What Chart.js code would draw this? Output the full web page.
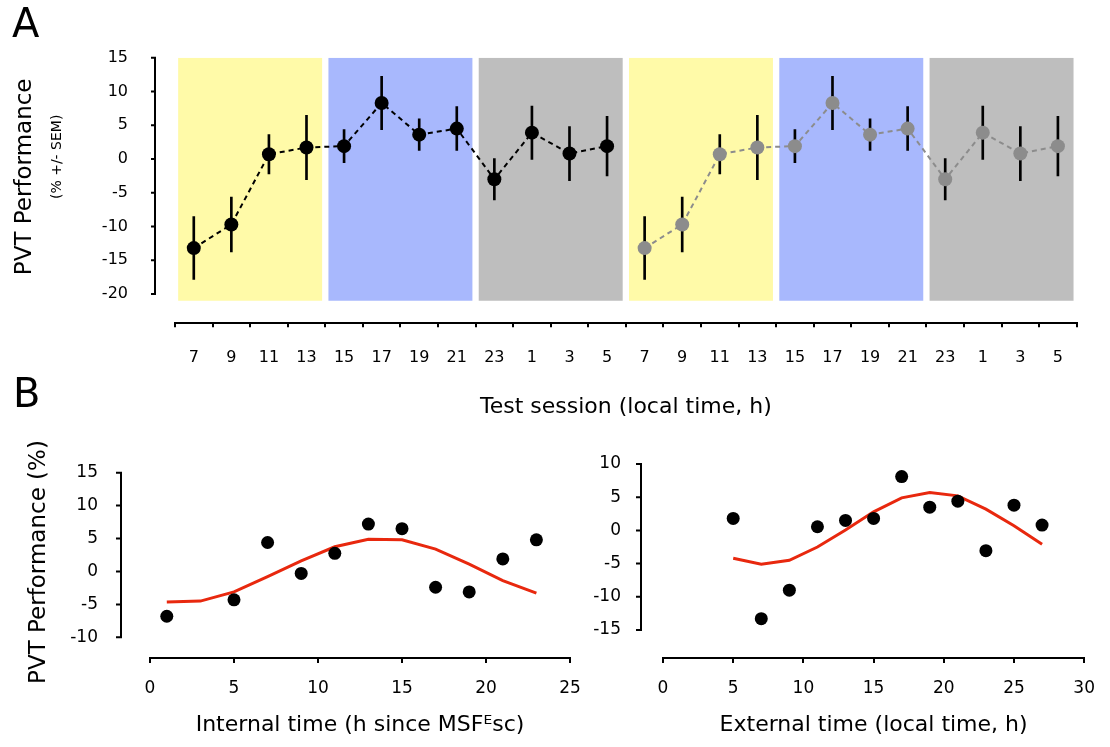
<!DOCTYPE html>
<html>
<head>
<meta charset="utf-8">
<script src="https://cdn.jsdelivr.net/npm/chart.js@4.4.0/dist/chart.umd.min.js"></script>
<style>
  body { margin: 0; background: #fff; }
  #wrap { position: relative; width: 1110px; height: 747px; overflow: hidden; }
  canvas { position: absolute; left: 0; top: 0; }
  .panel { position: absolute; font-family: "DejaVu Sans", sans-serif; font-size: 40px; line-height: 1; color: #000; }
</style>
</head>
<body>
<div id="wrap">
  <canvas id="chartA" width="1110" height="747"></canvas>
  <canvas id="chartB1" width="1110" height="747"></canvas>
  <canvas id="chartB2" width="1110" height="747"></canvas>
  <div class="panel" style="left:12px;top:3px">A</div>
  <div class="panel" style="left:13px;top:373px">B</div>
</div>
<script>
const FONT = "'DejaVu Sans', sans-serif";

/* ================= DATA ================= */

// panel A: one day of test sessions, plotted twice
const sessionHours = ["7", "9", "11", "13", "15", "17", "19", "21", "23", "1", "3", "5"];
const sessionMean = [-13.2, -9.7, 0.7, 1.7, 1.9, 8.3, 3.6, 4.5, -3.0, 3.9, 0.8, 1.9];
const sessionSem = [4.65, 4.05, 2.9, 4.75, 2.45, 3.95, 2.35, 3.25, 3.05, 3.95, 4.0, 4.4];
const blockNames = ["morning", "evening", "night", "morning 2", "evening 2", "night 2"];
const blockColors = ["#fffaa8", "#a8b8fd", "#bebebe", "#fffaa8", "#a8b8fd", "#bebebe"];

// panel B left: internal time
const internalX = [1, 5, 7, 9, 11, 13, 15, 17, 19, 21, 23];
const internalY = [-6.8, -4.3, 4.4, -0.3, 2.75, 7.2, 6.5, -2.4, -3.1, 1.9, 4.8];
const internalFitX = [1, 3, 5, 7, 9, 11, 13, 15, 17, 19, 21, 23];
const internalFitY = [-4.65, -4.5, -3.1, -0.8, 1.6, 3.75, 4.9, 4.8, 3.4, 1.1, -1.4, -3.3];

// panel B right: external time
const externalX = [5, 7, 9, 11, 13, 15, 17, 19, 21, 23, 25, 27];
const externalY = [1.8, -13.3, -9.0, 0.55, 1.5, 1.8, 8.1, 3.5, 4.4, -3.05, 3.8, 0.8];
const externalFitX = [5, 7, 9, 11, 13, 15, 17, 19, 21, 23, 25, 27];
const externalFitY = [-4.2, -5.1, -4.5, -2.5, 0.05, 2.8, 4.9, 5.7, 5.2, 3.2, 0.7, -2.1];

/* ================= HELPERS ================= */

// y axis drawn a little left of the plot, like the original figure
function sideAxis(cfg) {
  return {
    id: "sideAxis",
    afterDraw(chart) {
      const { ctx, chartArea } = chart;
      const y = chart.scales.y;
      const x = chartArea.left - cfg.gap;
      const top = y.getPixelForValue(cfg.from);
      const bottom = y.getPixelForValue(cfg.to);
      ctx.save();
      ctx.strokeStyle = "#000";
      ctx.lineWidth = 2;
      ctx.beginPath();
      ctx.moveTo(x, top - 1);
      ctx.lineTo(x, bottom + 1);
      y.ticks.forEach(t => {
        const py = y.getPixelForValue(t.value);
        ctx.moveTo(x - cfg.tick, py);
        ctx.lineTo(x, py);
      });
      ctx.stroke();
      ctx.fillStyle = "#000";
      ctx.textAlign = "center";
      ctx.textBaseline = "middle";
      cfg.titles.forEach(t => {
        ctx.save();
        ctx.translate(t.x, (top + bottom) / 2 + t.dy);
        ctx.rotate(-Math.PI / 2);
        ctx.font = t.size + "px " + FONT;
        ctx.fillText(t.text, 0, 0);
        ctx.restore();
      });
      ctx.restore();
    }
  };
}

function xAxis(extra) {
  return Object.assign({
    grid: { drawOnChartArea: false, drawTicks: true, tickLength: 5, color: "#000", lineWidth: 2 },
    border: { display: true, color: "#000", width: 2 }
  }, extra);
}

function yAxis(min, max, lowest, pad, size) {
  return {
    min: min,
    max: max,
    afterBuildTicks: s => { s.ticks = s.ticks.filter(t => t.value >= lowest); },
    ticks: { stepSize: 5, color: "#000", font: { family: FONT, size: size }, padding: pad },
    grid: { display: false, drawTicks: false },
    border: { display: false },
    afterFit: s => { s.width = 100; }
  };
}

Chart.defaults.color = "#000";
Chart.defaults.font.family = FONT;

const common = {
  responsive: false,
  animation: false,
  devicePixelRatio: 1,
  plugins: { legend: { display: false }, tooltip: { enabled: false } }
};

/* ================= PANEL A ================= */

const labelsA = sessionHours.concat(sessionHours);
const meanA = sessionMean.concat(sessionMean);
const semA = sessionSem.concat(sessionSem);

new Chart(document.getElementById("chartA"), {
  data: {
    labels: labelsA,
    datasets: [
      {
        type: "bar",
        xAxisID: "x2",
        data: blockNames.map(() => [-21, 15]),
        backgroundColor: blockColors,
        barPercentage: 0.958,
        categoryPercentage: 1,
        grouped: false,
        order: 3
      },
      {
        type: "bar",
        data: meanA.map((v, i) => [v - semA[i], v + semA[i]]),
        backgroundColor: "#000",
        barThickness: 2,
        grouped: false,
        order: 2
      },
      {
        type: "line",
        data: meanA.map((v, i) => i < 12 ? v : null),
        borderColor: "#000",
        borderWidth: 2,
        borderDash: [5, 4],
        pointRadius: 7,
        pointBackgroundColor: "#000",
        pointBorderWidth: 0,
        order: 1
      },
      {
        type: "line",
        data: meanA.map((v, i) => i >= 12 ? v : null),
        borderColor: "#8c8c8c",
        borderWidth: 2,
        borderDash: [5, 4],
        pointRadius: 7,
        pointBackgroundColor: "#8c8c8c",
        pointBorderWidth: 0,
        order: 1
      }
    ]
  },
  options: Object.assign({}, common, {
    layout: { padding: { left: 75, right: 33.3, top: 57.7, bottom: 323.7 } },
    scales: {
      x: xAxis({
        type: "category",
        offset: true,
        grid: { offset: true, drawOnChartArea: false, drawTicks: true, tickLength: 4, color: "#000", lineWidth: 2 },
        ticks: { color: "#000", font: { family: FONT, size: 16 }, padding: 21, maxRotation: 0, autoSkip: false },
        title: { display: true, text: "Test session (local time, h)", color: "#000", font: { family: FONT, size: 22 }, padding: { top: 0, bottom: 3 } },
        afterFit: s => { s.height = 100; }
      }),
      x2: { type: "category", labels: blockNames, offset: true, display: false },
      y: yAxis(-24.34, 15, -20, 47, 16)
    }
  }),
  plugins: [sideAxis({
    gap: 20, from: 15, to: -20, tick: 4,
    titles: [
      { text: "PVT Performance", x: 25, dy: 1, size: 23 },
      { text: "(% +/- SEM)", x: 57, dy: -19, size: 14 }
    ]
  })]
});

/* ================= PANEL B ================= */

function panelB(id, xs, ys, fitX, fitY, opt) {
  new Chart(document.getElementById(id), {
    data: {
      datasets: [
        {
          type: "line",
          data: fitX.map((x, i) => ({ x: x, y: fitY[i] })),
          borderColor: "#e8280e",
          borderWidth: 3,
          pointRadius: 0,
          order: 2
        },
        {
          type: "scatter",
          data: xs.map((x, i) => ({ x: x, y: ys[i] })),
          pointRadius: 6.5,
          pointBackgroundColor: "#000",
          pointBorderWidth: 0,
          order: 1
        }
      ]
    },
    options: Object.assign({}, common, {
      layout: { padding: opt.padding },
      scales: {
        x: xAxis({
          type: "linear",
          min: 0,
          max: opt.xMax,
          ticks: { stepSize: 5, color: "#000", font: { family: FONT, size: 17 }, padding: 15, maxRotation: 0 },
          title: { display: true, text: opt.title, color: "#000", font: { family: FONT, size: 22 }, padding: { top: 0, bottom: 0 } },
          afterFit: s => { s.height = 80; }
        }),
        y: yAxis(opt.yMin, opt.yMax, opt.yLow, opt.labelPad, 17)
      }
    }),
    plugins: [sideAxis({ gap: opt.gap, from: opt.yMax, to: opt.yLow, tick: 5, titles: opt.yTitles })]
  });
}

panelB("chartB1", internalX, internalY, internalFitX, internalFitY, {
  padding: { left: 50, right: 540, top: 472.7, bottom: 9 },
  xMax: 25, yMin: -13.14, yMax: 15, yLow: -10, labelPad: 52, gap: 29,
  title: "Internal time (h since MSF\u1D31sc)",
  yTitles: [{ text: "PVT Performance (%)", x: 39, dy: 7, size: 23 }]
});

panelB("chartB2", externalX, externalY, externalFitX, externalFitY, {
  padding: { left: 563, right: 20, top: 464, bottom: 9 },
  xMax: 30, yMin: -19.22, yMax: 10, yLow: -15, labelPad: 42, gap: 22,
  title: "External time (local time, h)",
  yTitles: []
});
</script>
</body>
</html>
